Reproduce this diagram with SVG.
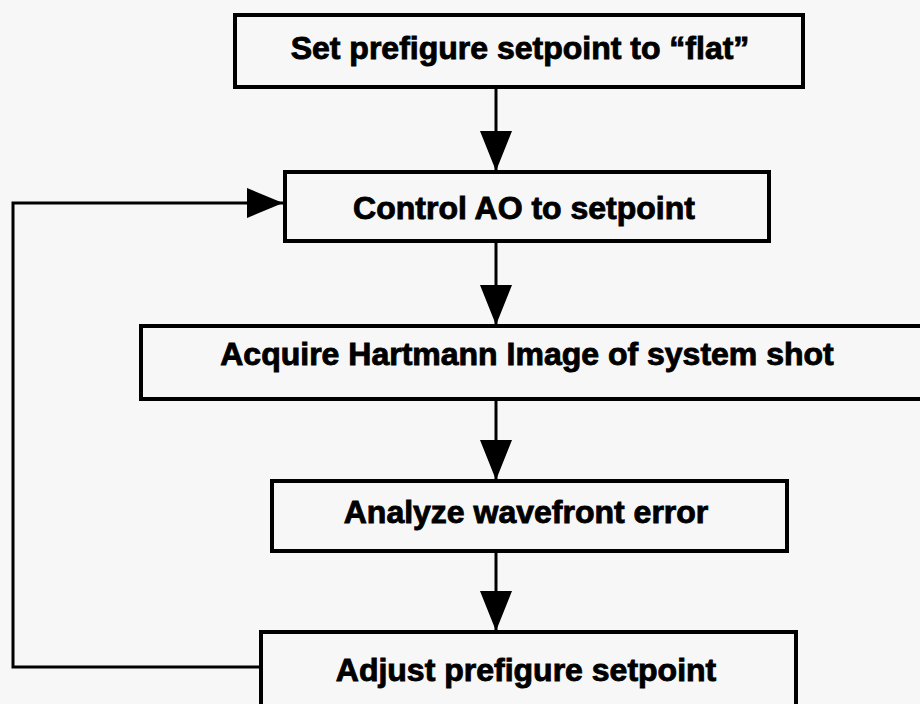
<svg xmlns="http://www.w3.org/2000/svg" width="920" height="704" viewBox="0 0 920 704">
  <defs>
    <marker id="head" markerUnits="userSpaceOnUse" markerWidth="40" markerHeight="32" refX="40" refY="16" orient="auto">
      <path d="M0,0 L40,16 L0,32 Z" fill="#000"/>
    </marker>
    <marker id="head-side" markerUnits="userSpaceOnUse" markerWidth="36" markerHeight="30" refX="36" refY="15" orient="auto">
      <path d="M0,0 L36,15 L0,30 Z" fill="#000"/>
    </marker>
    <style>
      .box { fill: #f7f7f7; stroke: #000; stroke-width: 4; }
      .label { font-family: "Liberation Sans", Arial, Helvetica, sans-serif; font-weight: bold; font-size: 32px; fill: #000; text-anchor: middle; stroke: #000; stroke-width: 0.9; }
      .wire { fill: none; stroke: #000; stroke-width: 3; }
    </style>
  </defs>

  <rect x="0" y="0" width="920" height="704" fill="#f7f7f7"/>

  <!-- process steps -->
  <g id="set-flat">
    <rect class="box" x="235" y="15" width="568" height="72"/>
    <text class="label" x="520" y="59">Set prefigure setpoint to “flat”</text>
  </g>
  <g id="control-ao">
    <rect class="box" x="285" y="172" width="484" height="69"/>
    <text class="label" x="524" y="219">Control AO to setpoint</text>
  </g>
  <g id="acquire-image">
    <rect class="box" x="141" y="326" width="800" height="73"/>
    <text class="label" x="527" y="365">Acquire Hartmann Image of system shot</text>
  </g>
  <g id="analyze-error">
    <rect class="box" x="272" y="481" width="515" height="70"/>
    <text class="label" x="526" y="523">Analyze wavefront error</text>
  </g>
  <g id="adjust-setpoint">
    <rect class="box" x="261" y="632" width="535" height="84"/>
    <text class="label" x="526" y="681">Adjust prefigure setpoint</text>
  </g>

  <!-- connectors -->
  <g id="connectors">
    <line class="wire" x1="496" y1="87" x2="496" y2="171" marker-end="url(#head)"/>
    <line class="wire" x1="496" y1="241" x2="496" y2="325" marker-end="url(#head)"/>
    <line class="wire" x1="496" y1="399" x2="496" y2="480" marker-end="url(#head)"/>
    <line class="wire" x1="496" y1="551" x2="496" y2="631" marker-end="url(#head)"/>
    <polyline class="wire" points="261,667 13,667 13,203 283,203" marker-end="url(#head-side)"/>
  </g>
</svg>
